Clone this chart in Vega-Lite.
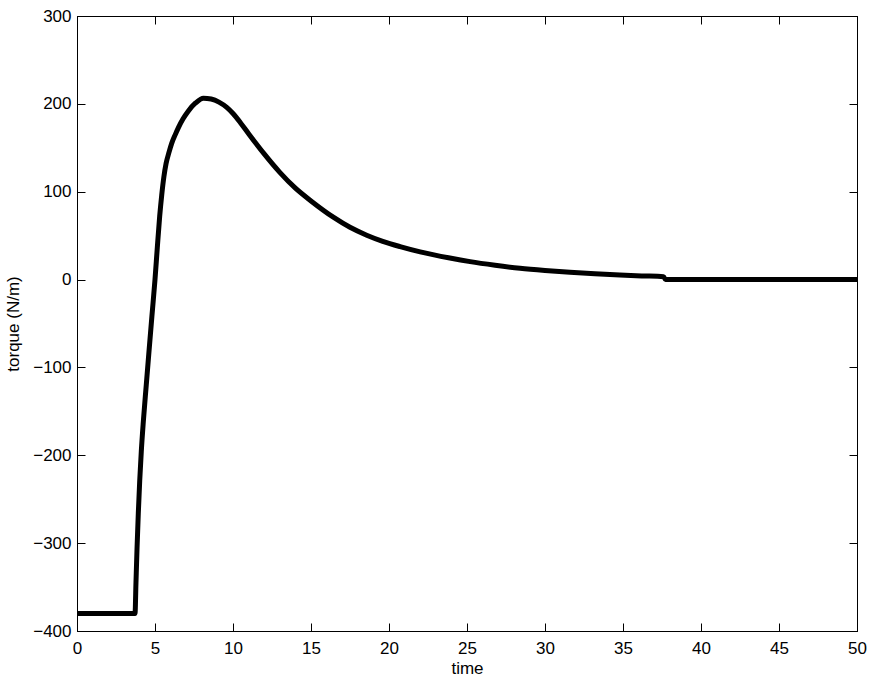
{
  "$schema": "https://vega.github.io/schema/vega-lite/v6.json",
  "autosize": "none",
  "padding": {"left": 77, "top": 16, "right": 15, "bottom": 50},
  "width": 780,
  "height": 615,
  "background": "white",
  "config": {
    "view": {"stroke": "black", "strokeWidth": 1},
    "font": "Liberation Sans",
    "axis": {
      "grid": false,
      "domainColor": "black",
      "tickColor": "black",
      "labelColor": "black",
      "titleColor": "black",
      "labelFont": "Liberation Sans",
      "titleFont": "Liberation Sans",
      "labelFontSize": 17,
      "titleFontSize": 17,
      "titleFontWeight": "normal",
      "tickSize": -8,
      "labelFlush": false,
      "labelOverlap": false
    }
  },
  "data": {
    "values": [
      {"t": 0, "v": -380},
      {"t": 3.72, "v": -380},
      {"t": 3.78, "v": -345},
      {"t": 3.85, "v": -305},
      {"t": 3.93, "v": -266},
      {"t": 4.02, "v": -229},
      {"t": 4.12, "v": -196},
      {"t": 4.25, "v": -162},
      {"t": 4.44, "v": -120},
      {"t": 4.6, "v": -85},
      {"t": 4.8, "v": -42},
      {"t": 5.0, "v": 0},
      {"t": 5.15, "v": 37},
      {"t": 5.3, "v": 72},
      {"t": 5.43, "v": 96},
      {"t": 5.57, "v": 117},
      {"t": 5.71, "v": 132},
      {"t": 5.9, "v": 145},
      {"t": 6.07, "v": 155},
      {"t": 6.3, "v": 165},
      {"t": 6.5, "v": 173},
      {"t": 6.8, "v": 183},
      {"t": 7.14, "v": 192},
      {"t": 7.6, "v": 201},
      {"t": 8.1, "v": 206.5},
      {"t": 8.6, "v": 205.5},
      {"t": 9.1, "v": 202},
      {"t": 9.6, "v": 196},
      {"t": 10.0, "v": 189},
      {"t": 10.5, "v": 178},
      {"t": 11.0, "v": 166},
      {"t": 12.0, "v": 143},
      {"t": 13.0, "v": 122},
      {"t": 14.0, "v": 104},
      {"t": 15.0, "v": 89.5},
      {"t": 16.43, "v": 71},
      {"t": 17.5, "v": 59.5},
      {"t": 18.57, "v": 50.5},
      {"t": 19.6, "v": 43.5},
      {"t": 20.71, "v": 37.5},
      {"t": 22.0, "v": 31.5},
      {"t": 23.9, "v": 24.5},
      {"t": 25.2, "v": 20.4},
      {"t": 26.8, "v": 16.3},
      {"t": 28.4, "v": 12.8},
      {"t": 30.0, "v": 10.3},
      {"t": 31.6, "v": 8.3},
      {"t": 33.2, "v": 6.6},
      {"t": 34.8, "v": 5.2},
      {"t": 36.2, "v": 4.2},
      {"t": 37.6, "v": 3.3},
      {"t": 37.72, "v": 0},
      {"t": 50, "v": 0}
    ]
  },
  "resolve": {"axis": {"x": "independent", "y": "independent"}},
  "layer": [
    {
      "mark": {"type": "line", "color": "black", "strokeWidth": 5, "interpolate": "monotone", "strokeJoin": "round", "clip": true},
      "encoding": {
        "x": {"field": "t", "type": "quantitative", "scale": {"domain": [0, 50], "nice": false, "zero": false},
          "axis": {"orient": "bottom", "title": "time", "values": [0,5,10,15,20,25,30,35,40,45,50], "labelPadding": 17, "titlePadding": 4}},
        "y": {"field": "v", "type": "quantitative", "scale": {"domain": [-400, 300], "nice": false, "zero": false},
          "axis": {"orient": "left", "title": "torque (N/m)", "values": [-400,-300,-200,-100,0,100,200,300], "labelPadding": 14, "titlePadding": 10}}
      }
    },
    {
      "mark": {"type": "line", "opacity": 0},
      "encoding": {
        "x": {"field": "t", "type": "quantitative", "axis": {"orient": "top", "title": null, "labels": false, "values": [0,5,10,15,20,25,30,35,40,45,50]}},
        "y": {"field": "v", "type": "quantitative", "axis": {"orient": "right", "title": null, "labels": false, "values": [-400,-300,-200,-100,0,100,200,300]}}
      }
    }
  ]
}
